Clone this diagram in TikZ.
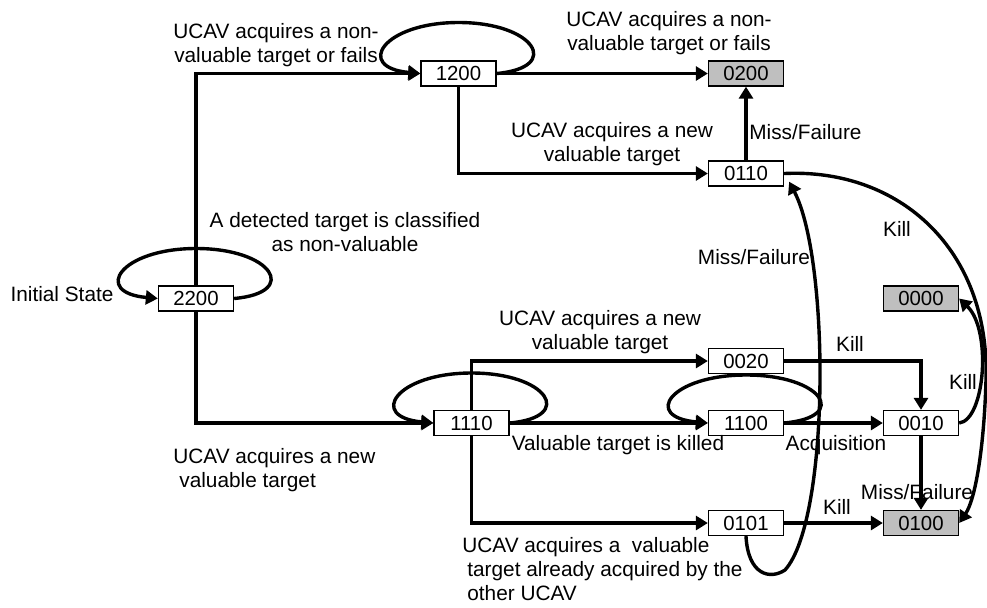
\documentclass[tikz,border=0pt]{standalone}
\usepackage{fontspec}
\setmainfont{Liberation Sans}
\usetikzlibrary{arrows.meta}
\tikzset{>={Triangle[length=6pt,width=7pt]}}
\tikzset{state/.style = {draw, line width=0.65pt, fill=white,
                         minimum width=37.5pt, minimum height=12.5pt,
                         inner sep=0pt, font=\fontsize{10.2}{12}\selectfont},
         absorb/.style = {state, fill=gray!50},
         lbl/.style = {inner sep=0pt, align=center,
                       font=\fontsize{10.4}{12}\selectfont},
         conn/.style = {line width=1.7pt}}

\begin{document}
\begin{tikzpicture}[x=0.5pt, y=-0.5pt]
    \useasboundingbox (0, 0) rectangle (987, 607);

    % states
    \node [state] (p2200) at (196, 298.5) {2200};
    \node [state] (p1200) at (458.5, 73.5) {1200};
    \node [absorb] (p0200) at (746, 73.5) {0200};
    \node [state] (p0110) at (746, 173.5) {0110};
    \node [absorb] (p0000) at (921, 298.5) {0000};
    \node [state] (p0020) at (746, 361) {0020};
    \node [state] (p1110) at (471.5, 423) {1110};
    \node [state] (p1100) at (746, 423) {1100};
    \node [state] (p0010) at (921, 423) {0010};
    \node [state] (p0101) at (746, 523) {0101};
    \node [absorb] (p0100) at (921, 523) {0100};

    % transitions
    \draw [conn, ->] (p2200.north) |- (p1200.west);
    \draw [conn, ->] (p2200.south) |- (p1110.west);
    \draw [conn, ->] (p1200) -- (p0200);
    \draw [conn, ->] (p1200.south) |- (p0110.west);
    \draw [conn, ->] (p0110) -- (p0200);
    \draw [conn, ->] (p1110.north) |- (p0020.west);
    \draw [conn, ->] (p1110) -- (p1100);
    \draw [conn, ->] (p1110.south) |- (p0101.west);
    \draw [conn, ->] (p1100) -- (p0010);
    \draw [conn, ->] (p0020.east) -| (p0010.north);
    \draw [conn, ->] (p0010) -- (p0100);
    \draw [conn, ->] (p0101) -- (p0100);

    % self loops
    \draw [conn, ->] (p2200.east) .. controls +(66, -6) and +(76, 0) .. ++(-38, -50)
                     .. controls +(-76, 0) and +(-66, -6) .. (p2200.west);
    \draw [conn, ->] (p1200.east) .. controls +(66, -6) and +(76, 0) .. ++(-38, -51)
                     .. controls +(-76, 0) and +(-66, -6) .. (p1200.west);
    \draw [conn, ->] (p1110.east) .. controls +(66, -6) and +(76, 0) .. ++(-38, -50)
                     .. controls +(-76, 0) and +(-66, -6) .. (p1110.west);
    \draw [conn, ->] (p1100.east) .. controls +(66, -6) and +(76, 0) .. ++(-38, -48)
                     .. controls +(-76, 0) and +(-66, -6) .. (p1100.west);

    % curved transitions
    \draw [conn, ->] (p0101.south) .. controls (748, 575) and (770, 580) .. (785, 570)
                     .. controls (830, 520) and (830, 260) .. ([shift={(5, -5)}]p0110.south east);
    \draw [conn, ->] (p0110.east) .. controls (900, 168) and (990, 250) .. (986, 380)
                     .. controls (984, 450) and (975, 500) .. (p0100.east);
    \draw [conn, ->] (p0010.east) .. controls (985, 420) and (992, 330) .. (p0000.east);

    % labels
    \node [lbl] (tNonA) at (276, 45) {UCAV acquires a non-\\valuable target or fails};
    \node [lbl] (tNonB) at (669, 33) {UCAV acquires a non-\\valuable target or fails};
    \node [lbl] (tNewA) at (612, 144) {UCAV acquires a new\\valuable target};
    \node [lbl, anchor=west] (tMissA) at (749, 132) {Miss/Failure};
    \node [lbl] (tDetect) at (345, 232) {A detected target is classified\\as non-valuable};
    \node [lbl] (tInit) at (62, 294) {Initial State};
    \node [lbl] (tMissB) at (754, 257) {Miss/Failure};
    \node [lbl] (tKillA) at (897, 229) {Kill};
    \node [lbl] (tNewB) at (600, 332) {UCAV acquires a new\\valuable target};
    \node [lbl] (tKillB) at (850, 344) {Kill};
    \node [lbl] (tKillC) at (963, 382) {Kill};
    \node [lbl, align=left, anchor=west] (tNewC) at (173, 470)
          {UCAV acquires a new\\\hspace{3pt}valuable target};
    \node [lbl] (tKilled) at (618, 445) {Valuable target is killed};
    \node [lbl] (tAcq) at (836, 445) {Acquisition};
    \node [lbl] (tMissC) at (917, 492) {Miss/Failure};
    \node [lbl] (tKillD) at (837, 507) {Kill};
    \node [lbl, align=left, anchor=north west] (tOther) at (462, 537)
          {UCAV acquires a~ valuable\\\hspace{2.5pt}target already acquired by the\\\hspace{2.5pt}other UCAV};
\end{tikzpicture}
\end{document}
